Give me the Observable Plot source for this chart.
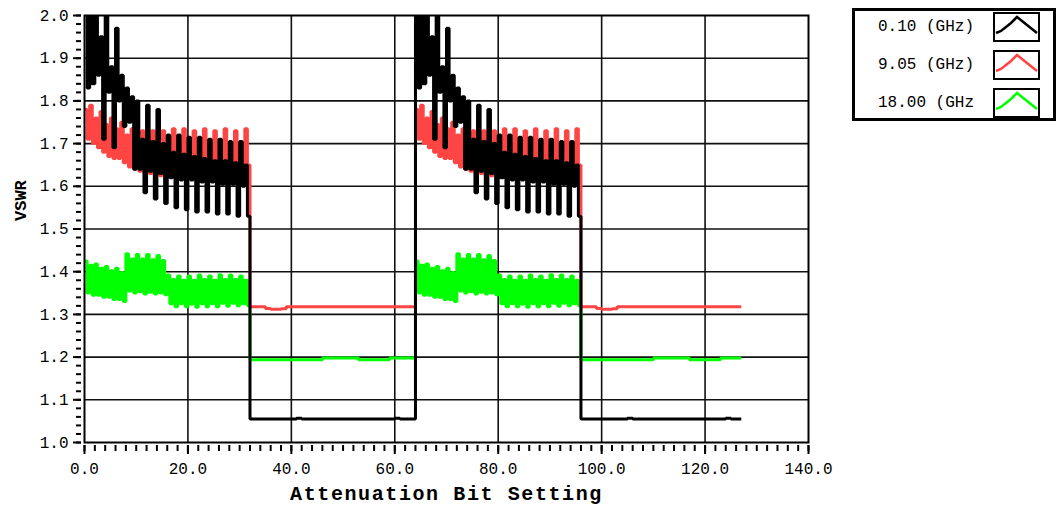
<!DOCTYPE html>
<html>
<head>
<meta charset="utf-8">
<script src="https://cdn.jsdelivr.net/npm/d3@7"></script>
<script src="https://cdn.jsdelivr.net/npm/@observablehq/plot@0.6"></script>
<style>
  html, body { margin: 0; padding: 0; background: #fff; }
  #wrap { position: relative; width: 1058px; height: 514px; overflow: hidden; }
  #legend { position: absolute; left: 852px; top: 8px; width: 204px; height: 113px; box-sizing: border-box;
            border: 3px solid #000; background: #fff; font-family: 'Liberation Mono', monospace; font-size: 16px; }
  .lt { position: absolute; left: 23px; line-height: 16px; white-space: pre; color: #000; }
  .li { position: absolute; left: 138px; width: 47px; height: 30px; box-sizing: border-box; border: 2px solid #000; }
  .li svg { position: absolute; left: 0; top: 0; }
</style>
</head>
<body>
<div id="wrap"><div id="chart"></div>
  <div id="legend"></div>
</div>
<script>
// ---- series names / colours ----
const seriesNames = ["0.10 (GHz)", "9.05 (GHz)", "18.00 (GHz"];
const seriesColors = ["#000000", "#ff4444", "#00ff00"];

// ---- attenuation states 0..31.5 (half-step readings), repeated for states 64..95.5 ----
const blackBlock = [
  2.06,1.83,2.02,1.84,  2.03,1.86,1.95,1.71,  2.05,1.82,1.88,1.69,  1.97,1.80,1.86,1.74,
  1.83,1.75,1.81,1.64,  1.80,1.64,1.71,1.585, 1.79,1.635,1.705,1.57, 1.78,1.63,1.70,1.56,
  1.72,1.62,1.68,1.55,  1.72,1.615,1.675,1.545, 1.715,1.615,1.67,1.54, 1.715,1.61,1.665,1.54,
  1.71,1.61,1.66,1.535, 1.71,1.605,1.66,1.535, 1.705,1.605,1.655,1.53, 1.705,1.60,1.65,1.53
];
const redBlock = [
  1.78,1.71,1.79,1.70,  1.76,1.69,1.775,1.68,  1.745,1.67,1.76,1.665, 1.735,1.665,1.75,1.655,
  1.72,1.645,1.735,1.64, 1.715,1.635,1.73,1.63, 1.71,1.63,1.73,1.625,  1.71,1.625,1.73,1.62,
  1.70,1.66,1.735,1.655, 1.70,1.66,1.735,1.655, 1.70,1.655,1.73,1.655, 1.70,1.66,1.735,1.655,
  1.695,1.655,1.73,1.65, 1.70,1.655,1.735,1.655, 1.695,1.655,1.73,1.65, 1.70,1.655,1.735,1.65
];
const greenBlock = [
  1.425,1.35,1.415,1.345, 1.418,1.345,1.408,1.34, 1.412,1.34,1.402,1.335, 1.408,1.335,1.398,1.33,
  1.442,1.355,1.43,1.35,  1.44,1.353,1.43,1.348,  1.44,1.352,1.428,1.348, 1.438,1.35,1.426,1.346,
  1.392,1.325,1.382,1.318, 1.39,1.325,1.38,1.318, 1.39,1.324,1.38,1.317, 1.392,1.325,1.382,1.318,
  1.39,1.325,1.38,1.318,  1.393,1.326,1.382,1.319, 1.392,1.326,1.382,1.32, 1.39,1.325,1.38,1.32
];
// ---- states 32..63, repeated for 96..127 ----
const blackFlat = [
  1.055,1.055,1.055,1.055,1.055,1.055,1.055,1.055,1.055,1.057,1.055,1.055,1.055,1.055,1.055,1.055,
  1.055,1.055,1.055,1.055,1.055,1.055,1.055,1.055,1.055,1.055,1.055,1.055,1.057,1.055,1.055,1.055
];
const redFlat = [
  1.318,1.318,1.318,1.314,1.312,1.312,1.313,1.318,1.318,1.318,1.318,1.318,1.318,1.318,1.318,1.318,
  1.318,1.318,1.318,1.318,1.318,1.318,1.318,1.318,1.318,1.318,1.318,1.318,1.318,1.318,1.318,1.318
];
const greenFlat = [
  1.194,1.194,1.194,1.194,1.194,1.194,1.194,1.194,1.194,1.194,1.194,1.194,1.194,1.194,1.198,1.198,
  1.198,1.198,1.198,1.198,1.198,1.194,1.194,1.194,1.194,1.194,1.194,1.198,1.198,1.198,1.198,1.198
];

// ---- axis ticks ----
const xMajor = [0, 20, 40, 60, 80, 100, 120, 140];
const xMinor = d3.range(0, 71).map(i => i * 2);
const yMajor = [1.0, 1.1, 1.2, 1.3, 1.4, 1.5, 1.6, 1.7, 1.8, 1.9, 2.0];
const yMinor = d3.range(0, 51).map(i => 1 + i * 0.02);

function build(block, flat) {
  const pts = [];
  for (const off of [0, 64]) {
    block.forEach((v, i) => pts.push({x: off + i * 0.5, y: v}));
    flat.forEach((v, i) => pts.push({x: off + 32 + i, y: v}));
  }
  return pts;
}
const black = build(blackBlock, blackFlat);
const red = build(redBlock, redFlat);
const green = build(greenBlock, greenFlat);

const mono = "'Liberation Mono', 'DejaVu Sans Mono', monospace";
const fmt = d => d.toFixed(1);
const lineOpts = {x: "x", y: "y", strokeWidth: 3, clip: true, curve: "step-after", strokeLinejoin: "miter", strokeLinecap: "butt"};

const plot = Plot.plot({
  width: 1058, height: 514,
  marginLeft: 84, marginRight: 250, marginTop: 15, marginBottom: 72,
  style: {background: "#fff", fontFamily: mono, fontSize: "16px", color: "#000"},
  x: {domain: [0, 140]},
  y: {domain: [1, 2]},
  marks: [
    Plot.gridX(xMajor.slice(1, -1), {stroke: "#111", strokeOpacity: 1, strokeWidth: 1.6}),
    Plot.gridY(yMajor.slice(1, -1), {stroke: "#111", strokeOpacity: 1, strokeWidth: 1.6}),
    Plot.line(green, {...lineOpts, stroke: seriesColors[2]}),
    Plot.line(red, {...lineOpts, stroke: seriesColors[1]}),
    Plot.line(black, {...lineOpts, stroke: seriesColors[0]}),
    Plot.frame({stroke: "#000", strokeWidth: 2}),
    Plot.axisX(xMinor, {tickSize: 6, dy: 3, text: null, label: null, stroke: "#000", strokeWidth: 2}),
    Plot.axisX(xMajor, {tickSize: 9, dy: 3, text: null, label: null, stroke: "#000", strokeWidth: 2}),
    Plot.axisX(xMajor, {tickSize: 0, tickPadding: 20, tickFormat: fmt, label: null, fontSize: 16, fontFamily: mono, fill: "#000"}),
    Plot.axisY(yMinor, {tickSize: 5, dx: -3, text: null, label: null, stroke: "#000", strokeWidth: 2}),
    Plot.axisY(yMajor, {tickSize: 8, dx: -3, text: null, label: null, stroke: "#000", strokeWidth: 2}),
    Plot.axisY(yMajor, {tickSize: 0, tickPadding: 16, tickFormat: fmt, label: null, fontSize: 16, fontFamily: mono, fill: "#000"}),
    Plot.text(["Attenuation Bit Setting"], {text: d => d, frameAnchor: "bottom", dy: 57, fontSize: 20, fontWeight: "bold", fontFamily: mono, fill: "#000"}),
    Plot.text(["VSWR"], {text: d => d, frameAnchor: "left", dx: -64, dy: -8, rotate: -90, fontSize: 17, fontWeight: "bold", fontFamily: mono, fill: "#000"})
  ]
});
document.getElementById("chart").appendChild(plot);
d3.select(plot).selectAll("text").filter(function() { return this.textContent === "Attenuation Bit Setting"; })
  .attr("letter-spacing", "1.6px");

// ---- legend ----
const legend = document.getElementById("legend");
const rowText = [16, 54, 92];
const rowIcon = [1, 39, 77];
seriesNames.forEach((name, i) => {
  const t = document.createElement("div");
  t.className = "lt";
  t.style.top = (rowText[i] - 8) + "px";
  t.textContent = name;
  legend.appendChild(t);
  const b = document.createElement("div");
  b.className = "li";
  b.style.top = rowIcon[i] + "px";
  b.innerHTML = `<svg width="43" height="26"><polyline points="1,19 6,17 11,13 16,9 22,3 27,7 32,11 37,15 42,19" fill="none" stroke="${seriesColors[i]}" stroke-width="2.5"/></svg>`;
  legend.appendChild(b);
});
</script>
</body>
</html>
